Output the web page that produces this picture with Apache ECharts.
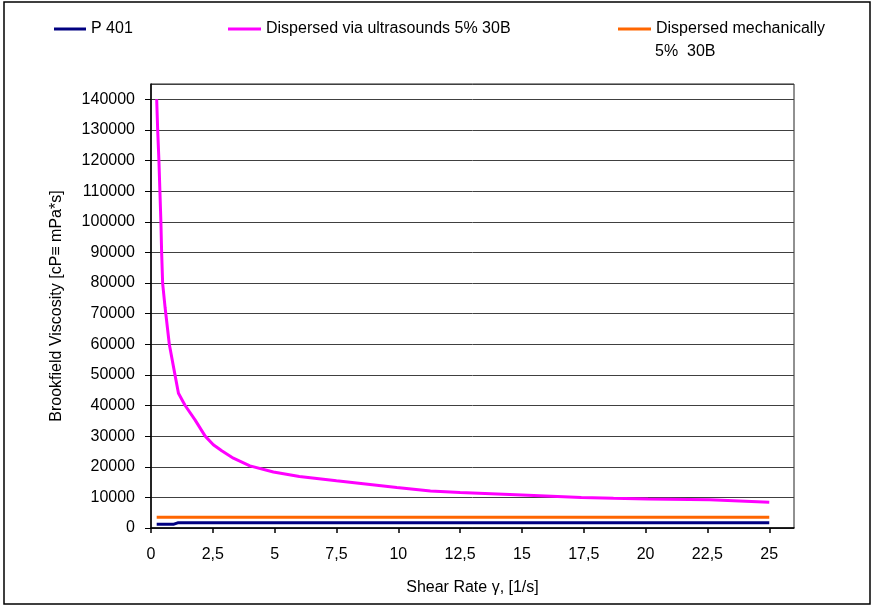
<!DOCTYPE html>
<html>
<head>
<meta charset="utf-8">
<script src="https://cdn.jsdelivr.net/npm/echarts@6/dist/echarts.min.js"></script>
<style>
html,body{margin:0;padding:0;background:#fff;}
#chart{width:873px;height:607px;}
</style>
</head>
<body>
<div id="chart"></div>
<script>
// Series names
const seriesNames = ['P 401', 'Dispersed via ultrasounds 5% 30B', 'Dispersed mechanically 5%  30B'];
// Shear rate (1/s) and viscosity (cP)
const p401X = [0.23, 0.5, 0.9, 1.08, 2.5, 5, 10, 15, 20, 25];
const p401Y = [1200, 1200, 1200, 1700, 1700, 1700, 1700, 1700, 1700, 1700];
const ultraX = [0.23, 0.27, 0.32, 0.36, 0.40, 0.43, 0.47, 0.57, 0.74, 0.97, 1.11, 1.38, 1.78, 2.19, 2.52, 2.86, 3.33, 4.0, 4.95, 6.0, 7.5, 9.94, 11.3, 12.5, 15.0, 17.4, 18.7, 20.1, 22.6, 25.0];
const ultraY = [140000, 130000, 120000, 110000, 100000, 90000, 80000, 72000, 60000, 50000, 44000, 40000, 35300, 30000, 27200, 25200, 22800, 20300, 18300, 16800, 15400, 13200, 12100, 11600, 10800, 10000, 9700, 9500, 9200, 8400];
const mechX = [0.23, 2.5, 5, 10, 15, 20, 25];
const mechY = [3500, 3500, 3500, 3500, 3500, 3500, 3500];
const xTicks = ['0', '2,5', '5', '7,5', '10', '12,5', '15', '17,5', '20', '22,5', '25'];
const yTicks = ['0','10000','20000','30000','40000','50000','60000','70000','80000','90000','100000','110000','120000','130000','140000'];

const FONT = 'Liberation Sans';
const zip = (xs, ys) => xs.map((x, i) => [x, ys[i]]);
const colors = ['#000080', '#FF00FF', '#FF6600'];

const chart = echarts.init(document.getElementById('chart'), null, {renderer: 'canvas'});
const legendBase = {
  orient: 'horizontal', top: 21, padding: 0, itemWidth: 32, itemHeight: 3, icon: 'rect',
  textStyle: {fontFamily: FONT, fontSize: 16, color: '#000'}
};
chart.setOption({
  animation: false,
  backgroundColor: '#fff',
  textStyle: {fontFamily: FONT},
  graphic: [
    {type: 'rect', shape: {x: 4, y: 2, width: 866, height: 602}, style: {fill: 'none', stroke: '#000', lineWidth: 1.5}, silent: true},
    {type: 'text', left: 655, top: 44, style: {text: '5%  30B', font: '16px "Liberation Sans"', fill: '#000'}}
  ],
  legend: [
    Object.assign({}, legendBase, {left: 54, data: [seriesNames[0]]}),
    Object.assign({}, legendBase, {left: 228, itemWidth: 33, data: [seriesNames[1]]}),
    Object.assign({}, legendBase, {left: 618, itemWidth: 33, data: [seriesNames[2]], formatter: () => 'Dispersed mechanically'})
  ],
  grid: {left: 151, right: 79, top: 84, bottom: 79, show: true, borderColor: '#222', borderWidth: 1, backgroundColor: 'transparent'},
  xAxis: {
    type: 'value', min: 0, max: 26, interval: 2.5,
    name: 'Shear Rate γ, [1/s]', nameLocation: 'middle', nameGap: 52,
    nameTextStyle: {fontFamily: FONT, fontSize: 16, color: '#000'},
    axisLine: {show: true, lineStyle: {color: '#000', width: 1.5}},
    axisTick: {show: true, length: 5, lineStyle: {color: '#000', width: 1.5}},
    axisLabel: {fontFamily: FONT, fontSize: 16, color: '#000', margin: 19, showMaxLabel: false,
      formatter: v => { const i = Math.round(v / 2.5); return (Math.abs(v - i * 2.5) < 1e-6 && i < xTicks.length) ? xTicks[i] : ''; }},
    splitLine: {show: false}
  },
  yAxis: {
    type: 'value', min: 0, max: 145000, interval: 10000,
    name: 'Brookfield Viscosity [cP≡ mPa*s]', nameLocation: 'middle', nameGap: 86,
    nameTextStyle: {fontFamily: FONT, fontSize: 16, color: '#000'},
    axisLine: {show: true, lineStyle: {color: '#000', width: 1.5}},
    axisTick: {show: true, length: 6, lineStyle: {color: '#000', width: 1}},
    axisLabel: {fontFamily: FONT, fontSize: 16, color: '#000', margin: 16, showMaxLabel: false,
      formatter: v => { const i = Math.round(v / 10000); return (v % 10000 === 0 && i < yTicks.length) ? yTicks[i] : ''; }},
    splitLine: {show: true, lineStyle: {color: '#404040', width: 1}}
  },
  series: [
    {name: seriesNames[0], type: 'line', data: zip(p401X, p401Y), showSymbol: false, color: colors[0], lineStyle: {width: 3, color: colors[0]}, z: 4},
    {name: seriesNames[1], type: 'line', data: zip(ultraX, ultraY), showSymbol: false, color: colors[1], lineStyle: {width: 3, color: colors[1]}, z: 3},
    {name: seriesNames[2], type: 'line', data: zip(mechX, mechY), showSymbol: false, color: colors[2], lineStyle: {width: 3, color: colors[2]}, z: 2}
  ]
});
</script>
</body>
</html>
